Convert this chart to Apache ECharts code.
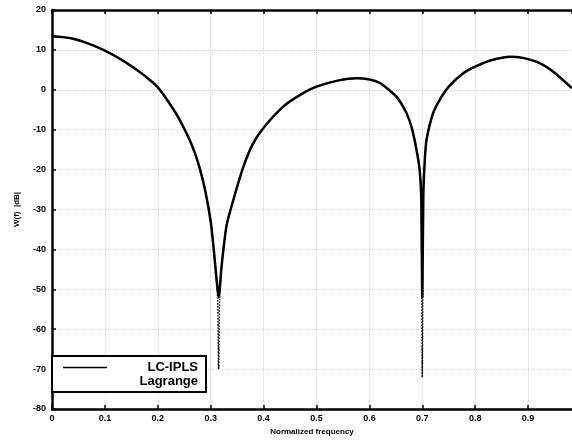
<!DOCTYPE html>
<html>
<head>
<meta charset="utf-8">
<script src="https://cdn.jsdelivr.net/npm/echarts@6/dist/echarts.min.js"></script>
<style>
  html, body { margin: 0; padding: 0; background: #fff; }
  #chart { width: 572px; height: 441px; }
</style>
</head>
<body>
<div id="chart"></div>
<script>
// normalized frequency samples
const freq = [0, 0.02, 0.04, 0.06, 0.08, 0.10, 0.12, 0.14, 0.16, 0.18, 0.20, 0.22, 0.24, 0.26, 0.27, 0.28, 0.29, 0.30, 0.305, 0.31, 0.313, 0.315, 0.317, 0.32, 0.324, 0.33, 0.343, 0.362, 0.38, 0.40, 0.437, 0.47, 0.50, 0.54, 0.576, 0.60, 0.62, 0.651, 0.67, 0.68, 0.689, 0.695, 0.698, 0.70, 0.702, 0.705, 0.708, 0.72, 0.733, 0.75, 0.778, 0.80, 0.83, 0.866, 0.89, 0.922, 0.95, 0.983];
// |W(f)| in dB
const lcIpls = [13.4, 13.2, 12.8, 12.0, 11.0, 9.8, 8.4, 6.8, 5.0, 3.0, 0.6, -3.0, -7.2, -12.5, -15.8, -20, -25.5, -33, -39, -46, -50, -52, -50, -45, -40, -34, -27.5, -19.2, -13.5, -9.5, -4.2, -1.2, 0.8, 2.3, 2.9, 2.6, 1.7, -1.7, -5.8, -9.5, -15, -20, -27, -52, -26, -17, -12.5, -6, -2.5, 0.8, 4.2, 5.8, 7.4, 8.3, 8.0, 6.7, 4.3, 0.4];
const lagrange = [13.4, 13.2, 12.8, 12.0, 11.0, 9.8, 8.4, 6.8, 5.0, 3.0, 0.6, -3.0, -7.2, -12.5, -15.8, -20, -25.5, -33, -39, -46, -52, -70, -52, -45, -40, -34, -27.5, -19.2, -13.5, -9.5, -4.2, -1.2, 0.8, 2.3, 2.9, 2.6, 1.7, -1.7, -5.8, -9.5, -15, -20, -27, -72, -26, -17, -12.5, -6, -2.5, 0.8, 4.2, 5.8, 7.4, 8.3, 8.0, 6.7, 4.3, 0.4];

const font = "'Liberation Sans', Arial, sans-serif";
const pair = (ys) => freq.map((f, i) => [f, ys[i]]);

const chart = echarts.init(document.getElementById("chart"));
chart.setOption({
  animation: false,
  grid: { left: 52, top: 10, right: 0, bottom: 31 },
  legend: {
    orient: "vertical",
    left: 52,
    top: 356,
    padding: [5, 8, 4, 10],
    itemGap: 1,
    itemWidth: 44,
    itemHeight: 12,
    borderColor: "#000",
    borderWidth: 2,
    backgroundColor: "#fff",
    itemStyle: { opacity: 0 },
    data: [
      { name: "LC-IPLS", lineStyle: { width: 1.5 } },
      { name: "Lagrange", lineStyle: { opacity: 0 } },
    ],
    formatter: (name) => "{a|" + name + "}",
    textStyle: {
      fontFamily: font,
      fontWeight: "bold",
      fontSize: 13,
      color: "#000",
      rich: {
        a: { width: 86, align: "right", fontFamily: font, fontWeight: "bold", fontSize: 13, color: "#000" },
      },
    },
  },
  xAxis: [
    {
      type: "value",
      min: 0,
      max: 0.983,
      interval: 0.1,
      name: "Normalized frequency",
      nameLocation: "middle",
      nameGap: 19,
      nameTextStyle: { fontFamily: font, fontWeight: "bold", fontSize: 8, color: "#000" },
      axisLine: { show: true, onZero: false, lineStyle: { color: "#000", width: 2.5 } },
      axisTick: { show: true, inside: true, length: 4, lineStyle: { width: 1.5 } },
      axisLabel: {
        showMaxLabel: false,
        margin: 5,
        fontFamily: font,
        fontWeight: "bold",
        fontSize: 9,
        color: "#000",
      },
      splitLine: { show: true, lineStyle: { color: "#d4d4d4", type: "dotted" } },
    },
    {
      type: "value",
      position: "top",
      min: 0,
      max: 0.983,
      interval: 0.1,
      axisLine: { show: true, onZero: false, lineStyle: { color: "#000", width: 2.5 } },
      axisTick: { show: true, inside: true, length: 4, lineStyle: { width: 1.5 } },
      axisLabel: { show: false },
      splitLine: { show: false },
    },
  ],
  yAxis: {
    type: "value",
    min: -80,
    max: 20,
    interval: 10,
    name: "W(f)  |dB|",
    nameLocation: "middle",
    nameGap: 31,
    nameTextStyle: { fontFamily: font, fontWeight: "bold", fontSize: 8, color: "#000" },
    axisLine: { show: true, onZero: false, lineStyle: { color: "#000", width: 2.5 } },
    axisTick: { show: true, inside: true, length: 4, lineStyle: { width: 1.5 } },
    axisLabel: { margin: 6, fontFamily: font, fontWeight: "bold", fontSize: 9, color: "#000" },
    splitLine: { show: true, lineStyle: { color: "#d4d4d4", type: "dotted" } },
  },
  series: [
    {
      name: "Lagrange",
      type: "line",
      data: pair(lagrange),
      symbol: "none",
      smooth: 0.2,
      z: 2,
      lineStyle: { color: "#000", width: 1.5, type: "dotted" },
      itemStyle: { color: "#000" },
    },
    {
      name: "LC-IPLS",
      type: "line",
      data: pair(lcIpls),
      symbol: "none",
      smooth: 0.2,
      z: 3,
      lineStyle: { color: "#000", width: 2.5 },
      itemStyle: { color: "#000" },
    },
  ],
});
</script>
</body>
</html>
